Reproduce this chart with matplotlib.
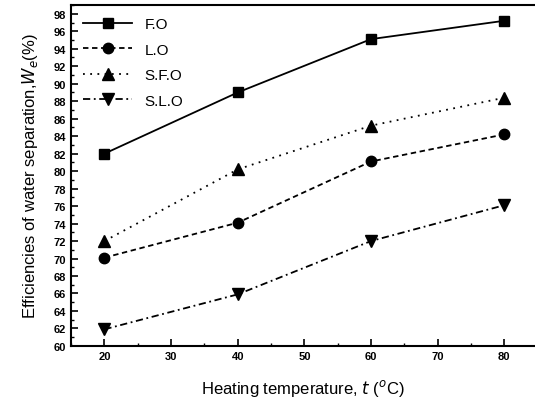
import numpy as np
import matplotlib.pyplot as plt
from matplotlib.ticker import MultipleLocator

temps = [20, 40, 60, 80]
fo = [82.0, 89.0, 95.1, 97.2]
lo = [70.1, 74.1, 81.1, 84.2]
sfo = [72.0, 80.2, 85.2, 88.4]
slo = [61.9, 65.9, 72.0, 76.1]

plt.rcParams['font.family'] = ['Liberation Sans', 'DejaVu Sans']

fig = plt.figure(figsize=(5.35, 4.02), dpi=100)
ax = fig.add_axes([0.133, 0.137, 0.867, 0.848])

ms = 7
ax.plot(temps, fo, color='black', linestyle='-', marker='s', markersize=ms, lw=1.3, label='F.O')
ax.plot(temps, lo, color='black', linestyle=(0, (3, 2)), marker='o', markersize=ms + 0.5, lw=1.3, label='L.O')
ax.plot(temps, sfo, color='black', linestyle=(0, (1, 3)), marker='^', markersize=ms + 1.5, lw=1.3, label='S.F.O')
ax.plot(temps, slo, color='black', linestyle=(0, (4, 2, 1, 2)), marker='v', markersize=ms + 1.5, lw=1.3, label='S.L.O')

ax.set_xlim(15, 84.6)
ax.set_ylim(60, 99)
ax.xaxis.set_major_locator(MultipleLocator(10))
ax.xaxis.set_minor_locator(MultipleLocator(5))
ax.yaxis.set_major_locator(MultipleLocator(2))
ax.yaxis.set_minor_locator(MultipleLocator(1))
ax.tick_params(which='both', direction='in', top=False, right=False)
ax.tick_params(which='major', length=5, width=1.2, labelsize=8)
ax.tick_params(which='minor', length=2.5, width=1)
for lab in ax.get_xticklabels() + ax.get_yticklabels():
    lab.set_fontweight('bold')
ax.spines['right'].set_visible(False)
for s in ['left', 'bottom', 'top']:
    ax.spines[s].set_linewidth(1.5)

ax.set_xlabel('Heating temperature, $t$ ($^{o}$C)', fontsize=12, labelpad=12)
ax.set_ylabel('Efficiencies of water separation,$W_e$(%)', fontsize=12, labelpad=10)

ax.legend(loc='upper left', frameon=False, fontsize=11, handlelength=3.2,
          borderaxespad=0.4, labelspacing=0.75)

fig.savefig('out.png', dpi=100)
plt.close(fig)
